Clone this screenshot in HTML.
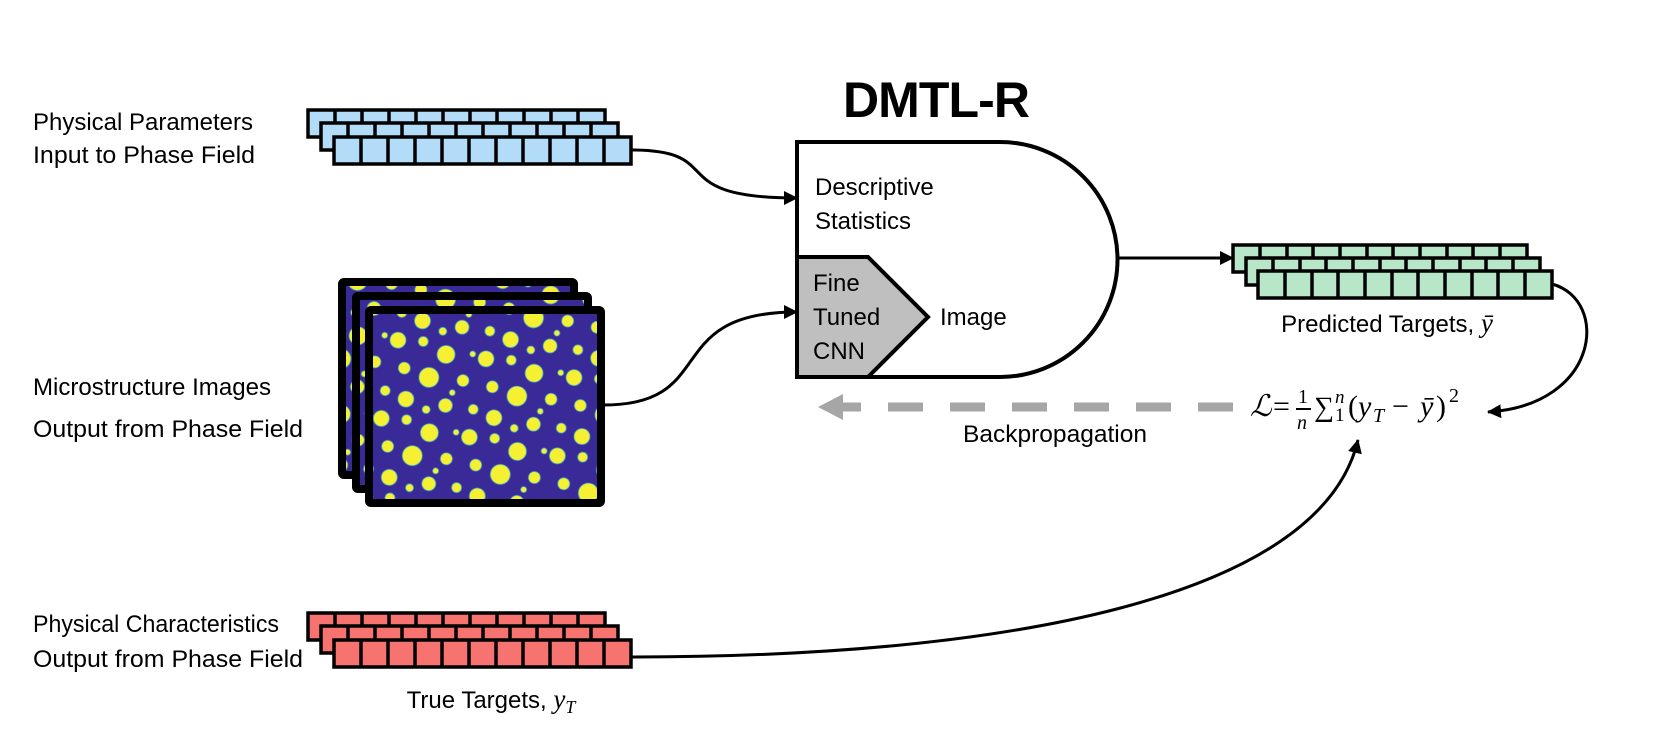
<!DOCTYPE html>
<html><head><meta charset="utf-8"><style>
html,body{margin:0;padding:0;background:#fff;}
svg{display:block;}
text{font-family:"Liberation Sans",sans-serif;fill:#000;}
.m{font-family:"Liberation Serif","DejaVu Serif",serif;}
</style></head><body>
<svg width="1664" height="739" viewBox="0 0 1664 739" xmlns="http://www.w3.org/2000/svg">
<defs>
<marker id="ah" markerWidth="14" markerHeight="14" refX="13" refY="7" orient="auto" markerUnits="userSpaceOnUse">
<path d="M0,0 L14,7 L0,14 Z" fill="#000"/>
</marker>
<pattern id="dots" width="90" height="80" patternUnits="userSpaceOnUse" patternTransform="rotate(12)">
<rect width="90" height="80" fill="#3a2a98"/>
<g fill="#f6f032" stroke="#3fa6c8" stroke-width="0.8">
<circle cx="10" cy="10" r="8"/><circle cx="35" cy="6" r="5"/><circle cx="60" cy="14" r="9"/>
<circle cx="82" cy="36" r="6"/><circle cx="22" cy="36" r="6"/><circle cx="48" cy="40" r="10"/>
<circle cx="8" cy="62" r="5"/><circle cx="30" cy="66" r="8"/><circle cx="70" cy="64" r="7"/>
<circle cx="86" cy="8" r="3"/><circle cx="52" cy="72" r="4"/><circle cx="74" cy="50" r="3"/>
</g>
</pattern>
</defs>

<g font-size="24" >
<text x="33" y="130" textLength="220" lengthAdjust="spacingAndGlyphs">Physical Parameters</text>
<text x="33" y="163" textLength="222" lengthAdjust="spacingAndGlyphs">Input to Phase Field</text>
<text x="33" y="395" textLength="238" lengthAdjust="spacingAndGlyphs">Microstructure Images</text>
<text x="33" y="437" textLength="270" lengthAdjust="spacingAndGlyphs">Output from Phase Field</text>
<text x="33" y="632" textLength="246" lengthAdjust="spacingAndGlyphs">Physical Characteristics</text>
<text x="33" y="667" textLength="270" lengthAdjust="spacingAndGlyphs">Output from Phase Field</text>
</g>

<g fill="none" stroke="#000" stroke-width="3" marker-end="url(#ah)">
<path d="M631,150 C730,150 660,198 797,198"/>
<path d="M604,405 C720,405 660,312 797,312"/>
<path d="M1118,258 H1233"/>
<path d="M1552,284 C1610,300 1600,405 1488,412"/>
<path d="M631,657 C1000,657 1320,600 1358,440"/>
</g>

<g stroke="#000" stroke-width="3.5" fill="#b3dcf8">
<g id="rowb"><rect x="308" y="110" width="297" height="27"/>
<path d="M335,110v27M362,110v27M389,110v27M416,110v27M443,110v27M470,110v27M497,110v27M524,110v27M551,110v27M578,110v27"/></g>
<use href="#rowb" x="13" y="13"/>
<use href="#rowb" x="26" y="27"/>
</g>
<g stroke="#000" stroke-width="3.5" fill="#f6736f" transform="translate(0,503)">
<g id="rowr"><rect x="308" y="110" width="297" height="27"/>
<path d="M335,110v27M362,110v27M389,110v27M416,110v27M443,110v27M470,110v27M497,110v27M524,110v27M551,110v27M578,110v27"/></g>
<use href="#rowr" x="13" y="13"/>
<use href="#rowr" x="26" y="27"/>
</g>
<g stroke="#000" stroke-width="3.5" fill="#b8e6c9">
<g id="rowg"><rect x="1233" y="245" width="294" height="27"/>
<path d="M1260,245v27M1287,245v27M1313,245v27M1340,245v27M1367,245v27M1393,245v27M1420,245v27M1447,245v27M1473,245v27M1500,245v27"/></g>
<use href="#rowg" x="13" y="13"/>
<use href="#rowg" x="25" y="26"/>
</g>

<text x="491" y="708" font-size="24" text-anchor="middle">True Targets, <tspan class="m" font-style="italic" font-size="27">y</tspan><tspan class="m" font-style="italic" font-size="18" dy="5">T</tspan></text>
<text x="1387" y="332" font-size="24" text-anchor="middle">Predicted Targets, <tspan class="m" font-style="italic" font-size="27">ȳ</tspan></text>

<g stroke="#000" stroke-width="8">
<rect x="342" y="282" width="232" height="193" rx="2" fill="url(#dots)"/>
<rect x="356" y="296" width="232" height="193" rx="2" fill="url(#dots)"/>
<rect x="369" y="310" width="232" height="193" rx="2" fill="url(#dots)"/>
</g>

<text x="843" y="117" font-size="50" font-weight="bold" textLength="187">DMTL-R</text>

<path d="M797,142 H1000 A117.5,117.5 0 0 1 1000,377 H797 Z" fill="#fff" stroke="#000" stroke-width="4"/>
<path d="M797,257 H868 L928,317 L868,377 H797 Z" fill="#bfbfbf" stroke="#000" stroke-width="4"/>
<g font-size="24">
<text x="815" y="195">Descriptive</text>
<text x="815" y="229">Statistics</text>
<text x="813" y="291">Fine</text>
<text x="813" y="325">Tuned</text>
<text x="813" y="359">CNN</text>
<text x="940" y="325">Image</text>
</g>

<path d="M1233,407 H858" stroke="#a6a6a6" stroke-width="9" stroke-dasharray="35 27"/>
<path d="M818,407 L843,394 L843,420 Z" fill="#a6a6a6"/>
<path d="M843,407 H858" stroke="#a6a6a6" stroke-width="9"/>
<text x="963" y="442" font-size="24" textLength="184" lengthAdjust="spacingAndGlyphs">Backpropagation</text>

<g>
<text class="m" x="1250" y="416" font-size="30" font-style="italic">ℒ</text>
<text class="m" x="1273" y="416" font-size="30">=</text>
<text class="m" x="1298" y="403" font-size="20">1</text>
<line x1="1296" y1="409" x2="1311" y2="409" stroke="#000" stroke-width="2"/>
<text class="m" x="1297" y="429" font-size="20" font-style="italic">n</text>
<text class="m" x="1314" y="416" font-size="28">∑</text>
<text class="m" x="1335" y="403" font-size="19" font-style="italic">n</text>
<text class="m" x="1335" y="421" font-size="19">1</text>
<text class="m" x="1348" y="416" font-size="30">(</text>
<text class="m" x="1358" y="416" font-size="30" font-style="italic">y</text>
<text class="m" x="1373" y="422" font-size="20" font-style="italic">T</text>
<text class="m" x="1392" y="416" font-size="30">−</text>
<text class="m" x="1420" y="416" font-size="30" font-style="italic">ȳ</text>
<text class="m" x="1436" y="416" font-size="30">)</text>
<text class="m" x="1449" y="402" font-size="20">2</text>
</g>
</svg>
</body></html>
